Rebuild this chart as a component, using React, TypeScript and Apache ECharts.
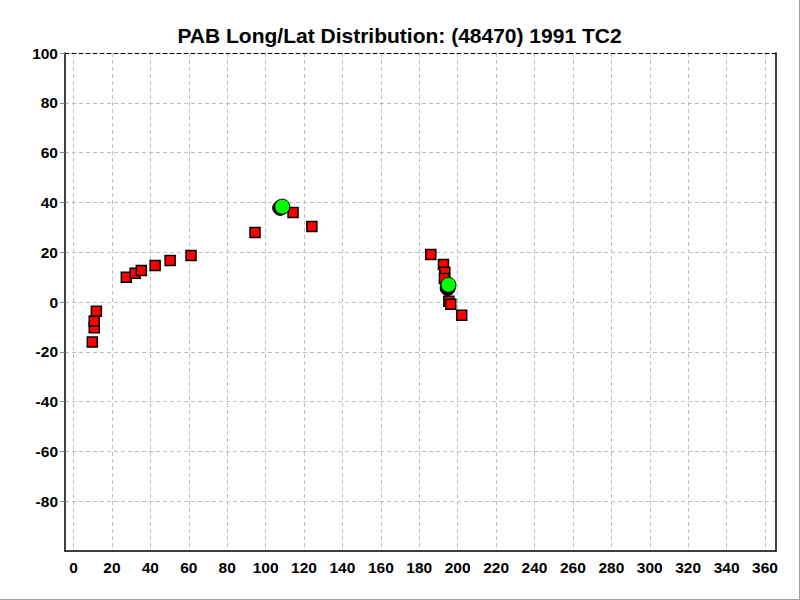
import React, { useEffect, useRef } from "react";
import * as echarts from "echarts";

const TITLE = "PAB Long/Lat Distribution: (48470) 1991 TC2";

// Red squares: [longitude, latitude]
const squarePoints: number[][] = [
  [9.8, -16.1],
  [10.8, -10.3],
  [10.8, -7.6],
  [11.9, -3.7],
  [27.5, 9.9],
  [32.1, 11.5],
  [35.3, 12.7],
  [42.5, 14.7],
  [50.3, 16.7],
  [61.2, 18.7],
  [94.5, 27.9],
  [114.3, 35.9],
  [124.1, 30.3],
  [186.0, 19.1],
  [192.6, 15.1],
  [193.3, 11.9],
  [193.1, 9.4],
  [195.4, 0.3],
  [196.4, -0.9],
  [202.1, -5.3],
];

// Black circles (shadow) and green circles
const blackPoints: number[][] = [
  [107.6, 37.8],
  [194.8, 5.6],
];
const greenPoints: number[][] = [
  [108.7, 38.3],
  [195.2, 6.9],
];

const Y_MIN = -100;
const Y_MAX = 100;
const X_MIN = 0;
const X_MAX = 360;
const Y_TICKS = [-80, -60, -40, -20, 0, 20, 40, 60, 80, 100];

const FONT = "'Liberation Sans', Arial, sans-serif";

export default function App() {
  const ref = useRef<HTMLDivElement>(null);

  useEffect(() => {
    if (!ref.current) return;
    const chart = echarts.init(ref.current, null, { renderer: "svg" });
    const labelStyle = {
      color: "#000",
      fontWeight: "bold" as const,
      fontSize: 15.5,
      fontFamily: FONT,
    };
    chart.setOption({
      animation: false,
      backgroundColor: "#fff",
      title: {
        text: TITLE,
        left: "center",
        top: 20,
        textStyle: {
          color: "#000",
          fontWeight: "bold",
          fontSize: 21,
          fontFamily: FONT,
        },
      },
      grid: [
        { left: 65, right: 23, top: 53, bottom: 48, containLabel: false },
        { left: 73.5, right: 34, top: 53, bottom: 48, containLabel: false },
      ],
      xAxis: [
        {
          gridIndex: 0,
          type: "value",
          min: 0,
          max: 1,
          position: "bottom",
          axisLine: { show: true, onZero: false, lineStyle: { color: "#000", width: 1.5 } },
          axisTick: { show: false },
          axisLabel: { show: false },
          splitLine: { show: false },
        },
        {
          gridIndex: 0,
          type: "value",
          min: 0,
          max: 1,
          position: "top",
          axisLine: { show: true, onZero: false, lineStyle: { color: "#000", width: 1, type: [4, 3] } },
          axisTick: { show: false },
          axisLabel: { show: false },
          splitLine: { show: false },
        },
        {
          gridIndex: 1,
          type: "value",
          min: X_MIN,
          max: X_MAX,
          interval: 20,
          position: "bottom",
          axisLine: { show: false, onZero: false },
          axisTick: { show: false },
          axisLabel: { ...labelStyle, margin: 8 },
          splitLine: { show: true, lineStyle: { color: "#c0c0c0", type: [4, 3], width: 1 } },
        },
      ],
      yAxis: [
        {
          gridIndex: 0,
          type: "value",
          min: Y_MIN,
          max: Y_MAX,
          interval: 20,
          position: "left",
          axisLine: { show: true, onZero: false, lineStyle: { color: "#000", width: 1.5 } },
          axisTick: { show: true, length: 5, lineStyle: { color: "#888" }, customValues: Y_TICKS },
          axisLabel: {
            ...labelStyle,
            margin: 7,
            customValues: Y_TICKS,
          },
          splitLine: { show: true, lineStyle: { color: "#c0c0c0", type: [4, 3], width: 1 } },
        },
        {
          gridIndex: 0,
          type: "value",
          min: Y_MIN,
          max: Y_MAX,
          position: "right",
          axisLine: { show: true, onZero: false, lineStyle: { color: "#000", width: 1.5 } },
          axisTick: { show: false },
          axisLabel: { show: false },
          splitLine: { show: false },
        },
        {
          gridIndex: 1,
          type: "value",
          min: Y_MIN,
          max: Y_MAX,
          interval: 20,
          show: false,
          splitLine: { show: false },
        },
      ],
      series: [
        {
          type: "scatter",
          xAxisIndex: 2,
          yAxisIndex: 2,
          symbol: "rect",
          symbolSize: 10,
          itemStyle: { color: "#ff0000", borderColor: "#000", borderWidth: 1.5, opacity: 1 },
          data: squarePoints,
          z: 3,
        },
        {
          type: "scatter",
          xAxisIndex: 2,
          yAxisIndex: 2,
          symbol: "circle",
          symbolSize: 15,
          itemStyle: { color: "#000", borderColor: "#000", borderWidth: 1, opacity: 1 },
          data: blackPoints,
          z: 4,
        },
        {
          type: "scatter",
          xAxisIndex: 2,
          yAxisIndex: 2,
          symbol: "circle",
          symbolSize: 15,
          itemStyle: { color: "#00ff00", borderColor: "#000", borderWidth: 1, opacity: 1 },
          data: greenPoints,
          z: 5,
        },
      ],
    });
    return () => chart.dispose();
  }, []);

  return (
    <div
      style={{
        position: "absolute",
        left: 0,
        top: 0,
        width: 800,
        height: 600,
        boxSizing: "border-box",
        borderRight: "1px solid #a0a0a0",
        borderBottom: "1px solid #a0a0a0",
        background: "#fff",
      }}
    >
      <div ref={ref} style={{ width: 799, height: 599 }} />
    </div>
  );
}
